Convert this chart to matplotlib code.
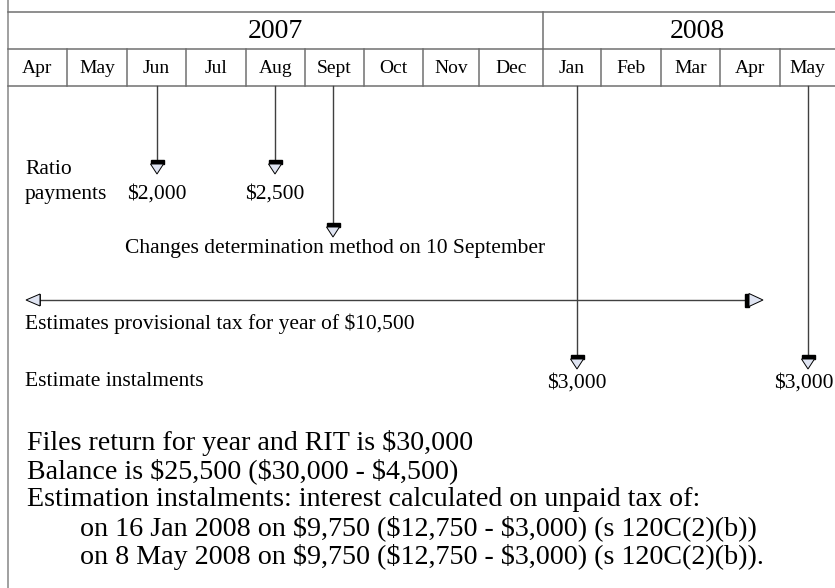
import matplotlib
matplotlib.use("Agg")
import matplotlib.pyplot as plt
from matplotlib.patches import Polygon, Rectangle

# ---- data ----
years = ["2007", "2008"]
months = ["Apr", "May", "Jun", "Jul", "Aug", "Sept", "Oct", "Nov", "Dec",
          "Jan", "Feb", "Mar", "Apr", "May"]
ratio_months = ["Jun", "Aug"]
ratio_amounts = ["$2,000", "$2,500"]
change_label = "Changes determination method on 10 September"
estimate_label = "Estimates provisional tax for year of $10,500"
instal_months = ["Jan", "May"]
instal_amounts = ["$3,000", "$3,000"]
notes = [
    "Files return for year and RIT is $30,000",
    "Balance is $25,500 ($30,000 - $4,500)",
    "Estimation instalments: interest calculated on unpaid tax of:",
    "on 16 Jan 2008 on $9,750 ($12,750 - $3,000) (s 120C(2)(b))",
    "on 8 May 2008 on $9,750 ($12,750 - $3,000) (s 120C(2)(b)).",
]
notes_indent = [False, False, False, True, True]

# ---- layout (pixel coordinates) ----
W, H = 835, 588
edges = [8, 67, 127, 186, 246, 305, 364, 423, 479, 543, 601, 661, 720, 780, 845]
year_split = 9  # index of first 2008 month
arrow_x = {2: 157, 4: 275, 5: 333, 9: 577, 13: 808}

FONT = "Liberation Serif"
GRID = "#707070"
LINE = "#404040"
FILL = "#dfe4f2"
SMALL = 15.5

fig = plt.figure(figsize=(W / 100, H / 100), dpi=100)
ax = fig.add_axes([0, 0, 1, 1])
ax.set_xlim(0, W)
ax.set_ylim(H, 0)
ax.axis("off")

# left border
ax.plot([8, 8], [0, H], color="#909090", lw=1.2)
# header boxes
y0, y1, y2 = 12, 49, 86
for y in (y0, y1, y2):
    ax.plot([8, W], [y, y], color=GRID, lw=1.1)
ax.plot([edges[year_split]] * 2, [y0, y1], color=GRID, lw=1.1)
for e in edges[1:-1]:
    ax.plot([e, e], [y1, y2], color=GRID, lw=1.1)

ax.text((edges[0] + edges[year_split]) / 2, (y0 + y1) / 2 + 1, years[0],
        family=FONT, fontsize=20, ha="center", va="center")
ax.text((edges[year_split] + W + 10) / 2 + 3, (y0 + y1) / 2 + 1, years[1],
        family=FONT, fontsize=20, ha="center", va="center")
for i, m in enumerate(months):
    cx = (edges[i] + edges[i + 1]) / 2 if i < len(months) - 1 else 807
    ax.text(cx, (y1 + y2) / 2 + 1, m, family=FONT, fontsize=14,
            ha="center", va="center")


def head_down(x, ytop):
    ax.add_patch(Rectangle((x - 6.5, ytop), 13, 4, color="black", zorder=3))
    ax.add_patch(Polygon([(x - 6.5, ytop + 4), (x + 6.5, ytop + 4), (x, ytop + 14)],
                         closed=True, facecolor=FILL, edgecolor="black",
                         lw=0.7, zorder=3))


def vline_arrow(x, ytop):
    ax.plot([x, x], [y2, ytop], color=LINE, lw=1.0)
    head_down(x, ytop)


# ratio payments
for m, amt in zip(ratio_months, ratio_amounts):
    idx = months.index(m)
    x = arrow_x[idx]
    vline_arrow(x, 160)
    ax.text(x, 194, amt, family=FONT, fontsize=SMALL, ha="center", va="center")
ax.text(25, 170, "Ratio", family=FONT, fontsize=SMALL, ha="left", va="center")
ax.text(25, 194, "payments", family=FONT, fontsize=SMALL, ha="left", va="center")

# change of method
vline_arrow(arrow_x[5], 223)
ax.text(125, 249, change_label, family=FONT, fontsize=SMALL, ha="left", va="center")

# estimate instalments
for k, (m, amt) in enumerate(zip(instal_months, instal_amounts)):
    idx = months.index(m) if k == 0 else len(months) - 1
    x = arrow_x[idx]
    vline_arrow(x, 355)
    if k == 0:
        ax.text(x, 383, amt, family=FONT, fontsize=SMALL, ha="center", va="center")
    else:
        ax.text(834, 383, amt, family=FONT, fontsize=SMALL, ha="right", va="center")

# horizontal double arrow
ya = 300
ax.plot([40, 745], [ya, ya], color=LINE, lw=1.0)
ax.plot([40, 40], [ya - 5, ya + 5], color="black", lw=1.2)
ax.add_patch(Polygon([(40, ya - 6), (40, ya + 6), (26, ya)], closed=True,
                     facecolor=FILL, edgecolor="black", lw=0.7, zorder=3))
ax.add_patch(Rectangle((745, ya - 6.5), 4, 13, color="black", zorder=3))
ax.add_patch(Polygon([(749, ya - 6.5), (749, ya + 6.5), (763, ya)], closed=True,
                     facecolor=FILL, edgecolor="black", lw=0.7, zorder=3))
ax.text(25, 324, estimate_label, family=FONT, fontsize=SMALL, ha="left", va="center")
ax.text(25, 382, "Estimate instalments", family=FONT, fontsize=SMALL,
        ha="left", va="center")

# notes
for i, (line, ind) in enumerate(zip(notes, notes_indent)):
    ax.text(80 if ind else 27, 443 + i * 28.5, line, family=FONT, fontsize=20.2,
            ha="left", va="center")

fig.savefig("out.png", dpi=100)
